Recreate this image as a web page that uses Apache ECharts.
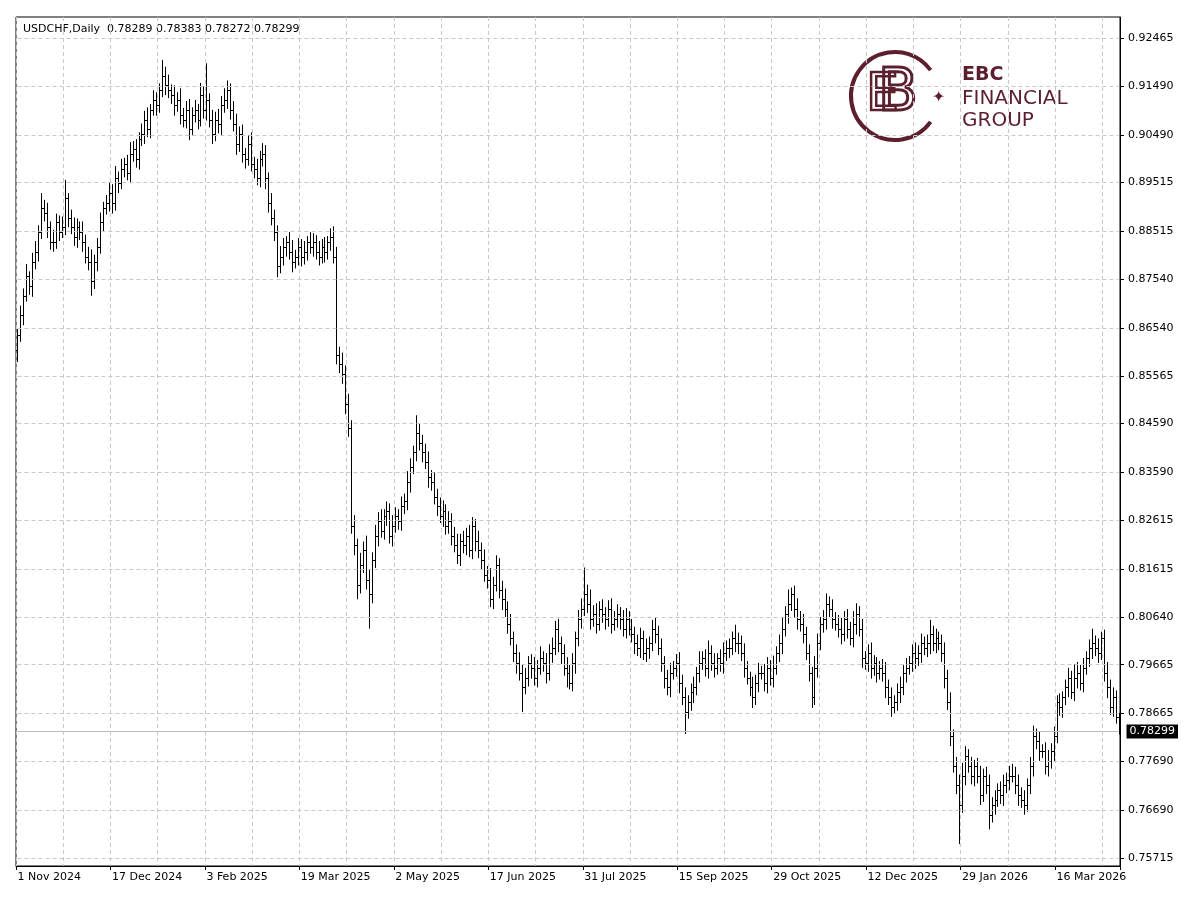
<!DOCTYPE html>
<html style="height: 100%">
<head>
    <meta charset="utf-8">
    <title>USDCHF Daily</title>
</head>
<body style="height: 100%; margin: 0; background: #fff">
<div id="container" style="width: 1200px; height: 911px"></div>
<script type="text/javascript" src="https://cdn.jsdelivr.net/npm/echarts@6/dist/echarts.min.js"></script>
<script type="text/javascript">
    // daily closes, price x 10000
    var closes = [
        8640,8680,8720,8760,8740,8790,8810,8850,8900,8890,
        8860,8830,8830,8870,8850,8860,8920,8880,8860,8840,
        8860,8850,8830,8800,8790,8750,8790,8820,8870,8900,
        8910,8930,8910,8960,8950,8980,8990,8970,9010,9020,
        9000,9040,9050,9080,9060,9100,9120,9110,9140,9170,
        9150,9140,9130,9110,9120,9090,9080,9100,9060,9090,
        9100,9080,9130,9100,9120,9080,9050,9080,9070,9110,
        9120,9140,9100,9070,9030,9050,9010,9000,9030,8990,
        8980,8960,9000,9010,8960,8910,8880,8850,8780,8800,
        8820,8830,8810,8790,8800,8820,8800,8810,8830,8820,
        8830,8810,8800,8820,8810,8830,8840,8800,8600,8580,
        8560,8500,8450,8250,8210,8130,8170,8200,8140,8110,
        8180,8230,8260,8240,8270,8280,8230,8250,8270,8260,
        8290,8300,8340,8370,8400,8440,8420,8400,8380,8350,
        8340,8310,8290,8270,8280,8250,8260,8230,8210,8190,
        8220,8210,8230,8200,8250,8220,8200,8180,8150,8140,
        8100,8130,8170,8120,8100,8080,8050,8020,7990,7970,
        7950,7920,7940,7970,7960,7940,7960,7980,7970,7950,
        7990,8000,8040,8010,7990,7960,7950,7930,7970,8020,
        8060,8080,8110,8090,8060,8070,8050,8080,8070,8060,
        8080,8050,8060,8070,8060,8040,8060,8040,8030,8010,
        8000,8020,7990,8000,8010,8040,8030,8000,7970,7940,
        7920,7950,7960,7970,7930,7900,7870,7890,7910,7920,
        7950,7970,7980,7960,7990,7970,7960,7980,7970,7990,
        8000,8000,8020,8010,8010,7990,7960,7940,7920,7900,
        7930,7950,7950,7930,7960,7940,7960,7990,8010,8040,
        8070,8090,8110,8080,8060,8050,8030,7990,7950,7900,
        7960,8010,8050,8060,8090,8080,8060,8050,8040,8030,
        8060,8040,8020,8050,8070,8040,7980,7970,7990,7960,
        7970,7950,7960,7950,7920,7900,7880,7890,7910,7920,
        7950,7960,7970,7990,7980,7990,8010,8000,8010,8030,
        8010,8020,8010,7990,7940,7890,7820,7760,7720,7680,
        7740,7780,7760,7740,7760,7740,7700,7740,7720,7660,
        7680,7690,7710,7700,7720,7730,7740,7740,7720,7700,
        7690,7680,7720,7760,7820,7810,7790,7790,7760,7770,
        7790,7820,7890,7880,7900,7920,7940,7910,7940,7950,
        7930,7960,7980,8000,8010,8000,7990,8020,7950,7920,
        7880,7900,7860,7830
    ];
    var firstOpen = 8610;
    // wick above / below body, in pips (x 0.0001)
    var wickUp = [
        12,20,15,25,10,18,22,14,30,16,
        20,12,25,18,14,22,37,10,16,20,
        18,12,22,15,20,25,14,18,20,12,
        16,22,18,25,14,20,12,18,24,16,
        20,14,22,18,25,12,20,16,14,32,
        18,22,12,20,16,24,14,18,22,15,
        20,12,25,18,75,14,20,16,22,18,
        24,20,14,18,22,16,20,12,18,24,
        14,20,16,22,18,12,20,16,14,22,
        18,12,20,24,14,18,16,22,12,20,
        18,14,22,16,20,12,18,22,20,16,
        24,18,20,16,22,14,25,18,30,20,
        16,22,18,24,14,20,16,22,18,14,
        20,16,22,18,14,36,20,16,18,22,
        14,20,16,18,22,14,20,16,18,24,
        14,20,16,22,18,14,20,16,22,18,
        24,16,20,14,18,22,16,20,14,18,
        22,16,20,14,18,22,16,24,14,20,
        18,22,16,20,14,18,22,16,20,14,
        18,22,55,20,30,18,22,16,20,14,
        18,22,16,20,14,18,22,16,20,14,
        18,22,16,20,14,18,22,16,20,14,
        16,20,14,18,22,16,20,14,18,22,
        12,24,14,18,26,16,20,10,18,22,
        16,20,14,28,22,16,20,14,12,22,
        16,20,14,18,22,16,25,14,18,22,
        16,30,14,18,22,16,20,14,18,12,
        24,20,14,18,22,16,20,14,18,22,
        16,20,14,26,22,16,20,14,18,22,
        16,12,14,18,22,16,20,14,18,22,
        16,20,14,18,22,16,20,14,18,28,
        16,20,14,18,22,16,20,14,18,22,
        26,20,14,18,12,16,20,14,18,22,
        16,20,14,18,22,16,20,24,18,22,
        16,20,14,18,22,16,20,14,18,22,
        16,20,14,18,12,16,20,14,28,22,
        16,20,14,18,30,16,20,14,18,22,
        16,20,14,8
    ];
    var wickDn = [
        25,14,20,12,18,22,16,20,14,18,
        22,16,20,14,18,12,16,20,14,18,
        22,16,20,14,18,30,16,20,14,18,
        14,18,22,16,20,12,18,14,20,16,
        18,22,14,20,16,18,12,22,16,14,
        20,16,18,22,14,20,16,18,22,12,
        16,20,14,18,22,16,20,14,18,22,
        16,18,20,14,22,16,18,20,14,16,
        20,14,18,16,22,20,16,18,22,14,
        18,20,16,22,14,18,20,16,18,14,
        20,16,18,14,22,16,18,14,20,18,
        20,22,18,16,20,30,18,16,20,70,
        18,16,22,14,18,20,16,22,14,18,
        20,16,18,22,14,18,16,20,14,22,
        18,16,20,14,22,18,16,20,14,18,
        22,16,20,14,18,22,16,20,14,18,
        16,20,14,18,22,16,20,14,18,22,
        16,50,14,18,22,16,20,14,18,22,
        16,20,14,18,22,16,30,14,18,22,
        16,20,14,18,22,16,20,14,18,22,
        16,20,14,18,22,16,20,14,18,22,
        16,20,14,18,22,16,20,14,18,22,
        16,20,14,18,22,16,45,14,18,22,
        16,20,14,18,22,16,20,14,18,22,
        16,20,14,18,22,16,20,14,18,22,
        16,20,14,18,22,16,20,14,18,22,
        16,20,14,18,22,16,20,14,18,22,
        16,20,14,18,22,16,20,14,18,22,
        16,20,14,18,22,16,20,14,18,22,
        16,20,14,18,22,16,20,14,18,22,
        16,20,14,18,22,16,20,14,18,22,
        16,20,14,18,22,16,20,14,18,80,
        16,20,14,18,22,16,20,14,18,30,
        16,20,14,18,22,16,20,14,18,22,
        16,20,14,18,22,16,20,14,18,22,
        16,20,14,18,22,16,20,14,18,22,
        16,20,14,18,22,16,20,14,18,22,
        16,20,14,6
    ];
    var yTicks = [0.75715,0.76690,0.77690,0.78665,0.79665,0.80640,0.81615,0.82615,0.83590,
        0.84590,0.85565,0.86540,0.87540,0.88515,0.89515,0.90490,0.91490,0.92465];
    var lastPrice = 0.78299;
    var header = 'USDCHF,Daily  0.78289 0.78383 0.78272 0.78299';

    // trading days (weekdays, minus Christmas and New Year)
    var months = ['Jan','Feb','Mar','Apr','May','Jun','Jul','Aug','Sep','Oct','Nov','Dec'];
    var dates = [];
    var d = new Date(Date.UTC(2024, 10, 1));
    while (dates.length < closes.length) {
        var wd = d.getUTCDay(), m = d.getUTCMonth(), dd = d.getUTCDate();
        if (wd !== 0 && wd !== 6 && !(m === 11 && dd === 25) && !(m === 0 && dd === 1)) {
            dates.push(dd + ' ' + months[m] + ' ' + d.getUTCFullYear());
        }
        d.setUTCDate(d.getUTCDate() + 1);
    }

    var ohlc = closes.map(function (c, i) {
        var o = i ? closes[i - 1] : firstOpen;
        var h = Math.max(o, c) + wickUp[i], l = Math.min(o, c) - wickDn[i];
        return [i, o / 1e4, c / 1e4, l / 1e4, h / 1e4];
    });
    var lastIdx = closes.length - 1;

    var myChart = echarts.init(document.getElementById('container'));
    var maroon = '#5b1f2e';
    var font = 'DejaVu Sans';

    // horizontal price grid (coord form keeps full precision)
    function hLine(v, style, label) {
        return [
            {coord: [0, v], lineStyle: style, label: label || {show: false}},
            {coord: [lastIdx, v]}
        ];
    }
    var gridLines = yTicks.map(function (v) {
        return hLine(v, {color: '#c8c8c8', type: [4, 3], width: 1});
    });
    gridLines.push(hLine(lastPrice, {color: '#bdbdbd', type: 'solid', width: 1}, {
        show: true, position: 'end', distance: 8, formatter: lastPrice.toFixed(5),
        backgroundColor: '#000', color: '#fff', padding: [2, 3, 1, 3], fontFamily: font, fontSize: 11
    }));

    var option = {
        animation: false,
        backgroundColor: '#fff',
        grid: {left: 16, right: 80, top: 17, bottom: 45, show: true, borderColor: '#000', borderWidth: 1},
        xAxis: {
            type: 'category', data: dates, boundaryGap: true,
            axisLine: {lineStyle: {color: '#000'}},
            axisTick: {show: true, interval: 31, length: 4, lineStyle: {color: '#000'}},
            axisLabel: {interval: 31, align: 'left', margin: 6, color: '#000', fontFamily: font, fontSize: 11},
            splitLine: {show: true, interval: 15, lineStyle: {color: '#c8c8c8', type: [4, 3]}}
        },
        yAxis: {
            type: 'value', position: 'right', min: 0.75552, max: 0.92896,
            axisLine: {show: true, lineStyle: {color: '#000'}},
            axisTick: {show: true, customValues: yTicks, length: 4, lineStyle: {color: '#000'}},
            axisLabel: {customValues: yTicks, color: '#000', fontFamily: font, fontSize: 11, margin: 8,
                formatter: function (v) { return v.toFixed(5); }},
            splitLine: {show: false}
        },
        graphic: [
            {type: 'text', left: 23, top: 24, style: {text: header, fill: '#000', font: '11px ' + font}},
            {type: 'arc', shape: {cx: 895, cy: 96, r: 44, startAngle: Math.PI / 5, endAngle: -Math.PI / 5},
                style: {stroke: maroon, lineWidth: 4, fill: 'none'}},
            {type: 'text', x: 866, y: 70, style: {text: 'E', fill: 'none', stroke: maroon, lineWidth: 2.5, font: '52px ' + font}},
            {type: 'text', x: 878, y: 66, style: {text: 'B', fill: 'none', stroke: maroon, lineWidth: 3, font: '58px ' + font}},
            {type: 'text', x: 932, y: 90, style: {text: '\u2726', fill: maroon, font: '16px ' + font}},
            {type: 'text', x: 962, y: 66, style: {text: 'EBC', fill: maroon, font: 'bold 19px ' + font}},
            {type: 'text', x: 962, y: 89, style: {text: 'FINANCIAL', fill: maroon, font: '20px ' + font}},
            {type: 'text', x: 962, y: 111, style: {text: 'GROUP', fill: maroon, font: '20px ' + font}}
        ],
        series: [
            {
                type: 'custom', data: ohlc,
                encode: {x: 0, y: [1, 2, 3, 4]},
                markLine: {silent: true, symbol: 'none', animation: false, precision: 5, data: gridLines},
                renderItem: function (params, api) {
                    var i = api.value(0);
                    var pO = api.coord([i, api.value(1)]);
                    var pC = api.coord([i, api.value(2)]);
                    var pL = api.coord([i, api.value(3)]);
                    var pH = api.coord([i, api.value(4)]);
                    var x = Math.round(pO[0]) + 0.5;
                    var st = {stroke: '#000', lineWidth: 1};
                    return {
                        type: 'group',
                        children: [
                            {type: 'line', shape: {x1: x, y1: pH[1], x2: x, y2: pL[1]}, style: st},
                            {type: 'line', shape: {x1: x - 1.5, y1: Math.round(pO[1]) + 0.5, x2: x, y2: Math.round(pO[1]) + 0.5}, style: st},
                            {type: 'line', shape: {x1: x, y1: Math.round(pC[1]) + 0.5, x2: x + 1.5, y2: Math.round(pC[1]) + 0.5}, style: st}
                        ]
                    };
                }
            }
        ]
    };
    myChart.setOption(option);
</script>
</body>
</html>
